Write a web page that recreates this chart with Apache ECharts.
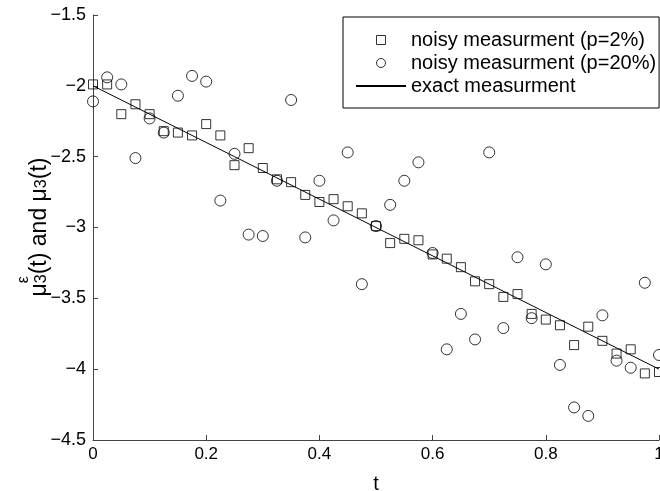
<!DOCTYPE html>
<html>
<head>
<meta charset="utf-8">
<script src="https://cdn.jsdelivr.net/npm/echarts@6/dist/echarts.min.js"></script>
<style>
  html, body { margin: 0; padding: 0; background: #fff; }
  #chart { width: 660px; height: 491px; }
</style>
</head>
<body>
<div id="chart"></div>
<script>
// Sample times
const tValues = [0, 0.025, 0.05, 0.075, 0.1, 0.125, 0.15, 0.175, 0.2, 0.225,
  0.25, 0.275, 0.3, 0.325, 0.35, 0.375, 0.4, 0.425, 0.45, 0.475,
  0.5, 0.525, 0.55, 0.575, 0.6, 0.625, 0.65, 0.675, 0.7, 0.725,
  0.75, 0.775, 0.8, 0.825, 0.85, 0.875, 0.9, 0.925, 0.95, 0.975, 1];

// Noisy measurement, p = 2%
const noisy2 = [-1.99, -1.99, -2.20, -2.13, -2.20, -2.32, -2.33, -2.35, -2.27, -2.35,
  -2.56, -2.44, -2.58, -2.66, -2.68, -2.77, -2.82, -2.80, -2.85, -2.90,
  -2.99, -3.11, -3.08, -3.09, -3.19, -3.22, -3.28, -3.38, -3.40, -3.49,
  -3.47, -3.61, -3.65, -3.69, -3.83, -3.70, -3.80, -3.89, -3.86, -4.03, -4.02];

// Noisy measurement, p = 20%
const noisy20 = [-2.11, -1.94, -1.99, -2.51, -2.23, -2.33, -2.07, -1.93, -1.97, -2.81,
  -2.48, -3.05, -3.06, -2.67, -2.10, -3.07, -2.67, -2.95, -2.47, -3.40,
  -2.99, -2.84, -2.67, -2.54, -3.18, -3.86, -3.61, -3.79, -2.47, -3.71,
  -3.21, -3.64, -3.26, -3.97, -4.27, -4.33, -3.62, -3.94, -3.99, -3.39, -3.90];

// Exact measurement
const exactT = [0, 0.25, 0.5, 0.75, 1];
const exactV = [-2.0, -2.5, -3.0, -3.5, -4.0];

const seriesNames = ['noisy measurment (p=2%)', 'noisy measurment (p=20%)', 'exact measurment'];
const xTicks = { min: 0, max: 1, interval: 0.2 };
const yTicks = { min: -4.5, max: -1.5, interval: 0.5 };

const FONT = 'Liberation Sans, Arial, Helvetica, sans-serif';
const AXIS_COLOR = '#444';

const pairs = (xs, ys) => xs.map((x, i) => [x, ys[i]]);
const minusSign = v => String(v).replace('-', '\u2212');

// Rotated y-axis title: mu with stacked superscript epsilon and subscript 3
const measureCtx = document.createElement('canvas').getContext('2d');
function textWidth(str, size) {
  measureCtx.font = size + 'px ' + FONT;
  return measureCtx.measureText(str).width;
}
function yTitleChildren() {
  const big = 23, small = 16;
  const parts = [];
  let x = 0;
  const add = (text, size, dy, advance) => {
    parts.push({ type: 'text', x: x, y: dy,
      style: { text: text, font: size + 'px ' + FONT, fill: '#000',
               textAlign: 'left', textVerticalAlign: 'alphabetic' } });
    if (advance) x += textWidth(text, size);
  };
  add('\u03bc', big, 0, true);
  add('\u03b5', small, -12, false);
  add('3', small, 6, true);
  add('(t) and \u03bc', big, 0, true);
  add('3', small, 6, true);
  add('(t)', big, 0, true);
  return { children: parts, length: x };
}
const yTitle = yTitleChildren();

const chart = echarts.init(document.getElementById('chart'), null, { renderer: 'canvas' });

chart.setOption({
  animation: false,
  backgroundColor: '#fff',
  grid: { left: 93, top: 15, right: 1, bottom: 51, containLabel: false, outerBoundsMode: 'none' },
  legend: {
    orient: 'vertical',
    left: 343,
    top: 17,
    padding: [13, 3, 12, 12],
    itemWidth: 50,
    itemHeight: 9,
    itemGap: 3,
    symbolKeepAspect: true,
    borderColor: '#000',
    borderWidth: 1,
    backgroundColor: '#fff',
    selectedMode: false,
    itemStyle: { borderWidth: 1, borderColor: '#000' },
    textStyle: { fontSize: 20, fontFamily: FONT, color: '#000' },
    data: [
      { name: seriesNames[0], icon: 'path://M0,0L10,0L10,10L0,10Z' },
      { name: seriesNames[1], icon: 'circle' },
      { name: seriesNames[2], itemStyle: { opacity: 0 } }
    ]
  },
  xAxis: {
    type: 'value',
    min: xTicks.min, max: xTicks.max, interval: xTicks.interval,
    name: 't',
    nameLocation: 'middle',
    nameGap: 34,
    nameTextStyle: { fontSize: 20, fontFamily: FONT, color: '#000' },
    axisLine: { show: true, onZero: false, lineStyle: { color: AXIS_COLOR, width: 1 } },
    axisTick: { show: true, inside: true, length: 5, lineStyle: { color: AXIS_COLOR } },
    axisLabel: { fontSize: 17, fontFamily: FONT, color: '#000', margin: 6, formatter: v => minusSign(v) },
    splitLine: { show: false }
  },
  yAxis: {
    type: 'value',
    min: yTicks.min, max: yTicks.max, interval: yTicks.interval,
    axisLine: { show: true, onZero: false, lineStyle: { color: AXIS_COLOR, width: 1 } },
    axisTick: { show: true, inside: true, length: 5, lineStyle: { color: AXIS_COLOR } },
    axisLabel: { fontSize: 18, fontFamily: FONT, color: '#000', margin: 7, formatter: v => minusSign(v) },
    splitLine: { show: false }
  },
  graphic: [{
    type: 'group',
    x: 28,
    y: 227 + yTitle.length / 2,
    rotation: Math.PI / 2,
    children: yTitle.children
  }],
  series: [
    {
      name: seriesNames[0],
      type: 'scatter',
      clip: false,
      symbol: 'rect',
      symbolSize: 9,
      itemStyle: { color: 'transparent', borderColor: '#000', borderWidth: 1 },
      data: pairs(tValues, noisy2),
      z: 3
    },
    {
      name: seriesNames[1],
      type: 'scatter',
      clip: false,
      symbol: 'circle',
      symbolSize: 11,
      itemStyle: { color: 'transparent', borderColor: '#000', borderWidth: 1 },
      data: pairs(tValues, noisy20),
      z: 3
    },
    {
      name: seriesNames[2],
      type: 'line',
      symbol: 'none',
      clip: false,
      itemStyle: { color: '#000' },
      lineStyle: { color: '#000', width: 1 },
      data: pairs(exactT, exactV),
      z: 2
    }
  ]
});
</script>
</body>
</html>
